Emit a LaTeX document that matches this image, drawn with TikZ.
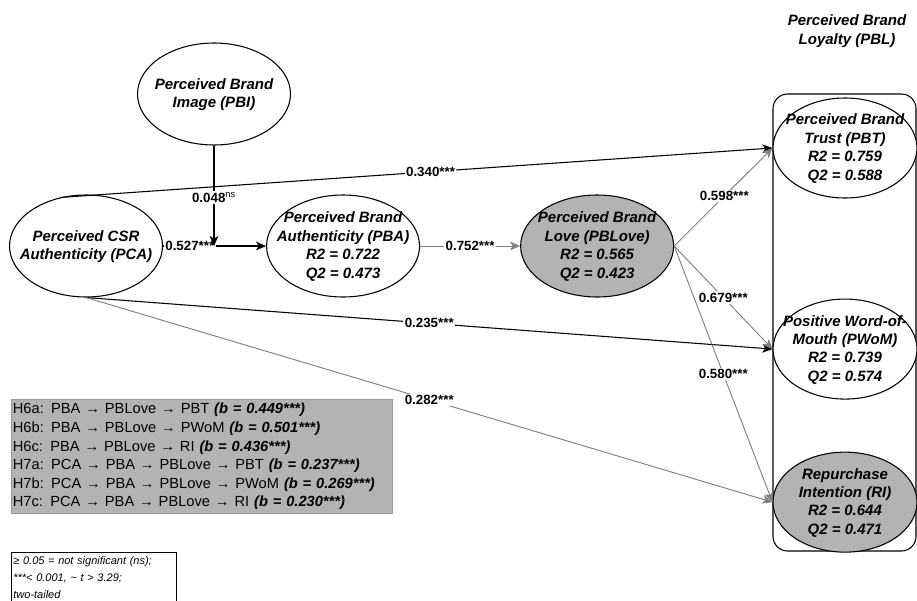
\documentclass[tikz,border=0pt]{standalone}
\usepackage{fontspec}
\setmainfont{Liberation Sans}
\usetikzlibrary{arrows.meta, positioning, shapes.geometric}
\definecolor{lvgray}{HTML}{B3B3B3}
\definecolor{pathgray}{HTML}{808080}
\definecolor{boxline}{HTML}{999999}
\newcommand{\lvtext}[1]{\smash{\raisebox{-3.4pt}{\makebox[0pt]{\begin{tabular}{@{}c@{}}#1\end{tabular}}}}}
\tikzset{
    latent/.style={ellipse, draw=black, line width=0.8pt, fill=white, minimum width=114.75pt, minimum height=76.5pt, inner sep=0pt, font=\fontsize{11.25}{13.8}\selectfont\bfseries\itshape},
    greylatent/.style={latent, fill=lvgray},
    loyal/.style={latent, minimum width=108pt, minimum height=75pt},
    greyloyal/.style={loyal, fill=lvgray},
    coef/.style={fill=white, inner sep=1pt, font=\fontsize{10}{12}\selectfont\bfseries},
    arrow/.style={-{Stealth[length=7.5pt, width=6.5pt, inset=2pt]}, line width=0.8pt, draw=black},
    greyarrow/.style={arrow, line width=0.7pt, draw=pathgray},
    groupbox/.style={draw=black, line width=0.8pt, rounded corners=11pt},
    legendbox/.style={draw=boxline, fill=lvgray, line width=0.8pt, inner xsep=1pt, inner ysep=2pt, anchor=north west, align=left, text width=283.75pt, minimum height=85.5pt, font=\fontsize{11}{13.9}\selectfont},
    notebox/.style={draw=black, line width=0.6pt, inner xsep=1.5pt, inner ysep=3pt, anchor=north west, align=left, text width=120.75pt, font=\fontsize{8.25}{12.75}\selectfont\itshape}
}

\begin{document}
\begin{tikzpicture}[x=0.75pt, y=-0.75pt, node distance=75pt]
    \path[use as bounding box, fill=white] (0,0) rectangle (917,600);
    \draw[groupbox] (773,94) rectangle (916,551);

    % constructs
    \node[latent] (PBI) at (214,94) {\lvtext{Perceived Brand\\Image (PBI)}};
    \node[latent] (PCA) at (86,246) {\lvtext{Perceived CSR\\Authenticity (PCA)}};
    \node[latent, right=77.25pt of PCA] (PBA) {\lvtext{Perceived Brand\\Authenticity (PBA)\\R2 = 0.722\\Q2 = 0.473}};
    \node[greylatent, right=of PBA] (PBLove) {\lvtext{Perceived Brand\\Love (PBLove)\\R2 = 0.565\\Q2 = 0.423}};

    % loyalty block
    \node[font=\fontsize{11.25}{14.2}\selectfont\bfseries\itshape, align=center] (PBLtitle) at (847,31) {Perceived Brand\\Loyalty (PBL)};
    \node[loyal] (PBT) at (845,148) {\lvtext{Perceived Brand\\Trust (PBT)\\R2 = 0.759\\Q2 = 0.588}};
    \node[loyal, below=of PBT] (PWoM) {\lvtext{Positive Word-of-\\Mouth (PWoM)\\R2 = 0.739\\Q2 = 0.574}};
    \node[greyloyal, below=39pt of PWoM] (RI) {\lvtext{Repurchase\\Intention (RI)\\R2 = 0.644\\Q2 = 0.471}};

    % paths
    \coordinate (join) at (PBI.south |- PCA.east);
    \draw[arrow] (PCA) -- node[coef, pos=0.26] {0.527***} (PBA);
    \draw[arrow] (PBI) -- node[coef, pos=0.52] {0.048\textsuperscript{\mdseries ns}} (join);
    \draw[arrow] (PCA.118) -- node[coef, pos=0.52] {0.340***} (PBT.west);
    \draw[arrow] (PCA.south) -- node[coef] {0.235***} (PWoM.west);
    \draw[greyarrow] (PCA.south) -- node[coef] {0.282***} (RI.west);
    \draw[greyarrow] (PBA) -- node[coef] {0.752***} (PBLove);
    \draw[greyarrow] (PBLove.east) -- node[coef, pos=0.51] {0.598***} (PBT.west);
    \draw[greyarrow] (PBLove.east) -- node[coef] {0.679***} (PWoM.west);
    \draw[greyarrow] (PBLove.east) -- node[coef] {0.580***} (RI.west);

    % indirect effects and note
    \node[legendbox] (hyp) at (11,399) {H6a: PBA → PBLove → PBT \textbf{\textit{(b = 0.449***)}}\\
        H6b: PBA → PBLove → PWoM \textbf{\textit{(b = 0.501***)}}\\
        H6c: PBA → PBLove → RI \textbf{\textit{(b = 0.436***)}}\\
        H7a: PCA → PBA → PBLove → PBT \textbf{\textit{(b = 0.237***)}}\\
        H7b: PCA → PBA → PBLove → PWoM \textbf{\textit{(b = 0.269***)}}\\
        H7c: PCA → PBA → PBLove → RI \textbf{\textit{(b = 0.230***)}}};
    \node[notebox] (note) at (11,552) {≥ 0.05 = not significant (ns);\\{}***< 0.001, \textasciitilde\ t > 3.29;\\two-tailed};
\end{tikzpicture}
\end{document}
